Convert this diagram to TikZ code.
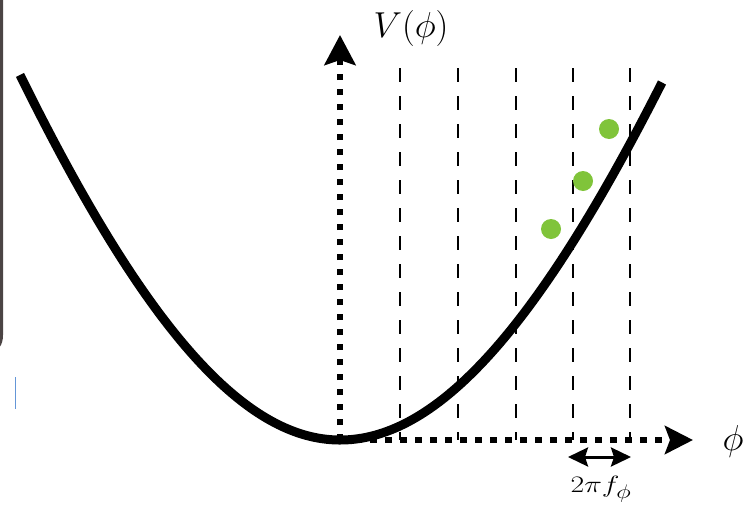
\documentclass[tikz,border=0pt]{standalone}
\usetikzlibrary{arrows.meta}
\definecolor{dotgreen}{RGB}{128,196,58}
\definecolor{edgegray}{RGB}{75,68,68}
\definecolor{markblue}{RGB}{100,150,215}
\begin{document}
\begin{tikzpicture}[x=1pt,y=-1pt,
  axisline/.style={line width=6.5pt,dash pattern=on 6.5pt off 8.5pt},
  guideline/.style={line width=2pt,dash pattern=on 14pt off 14pt},
  potential/.style={line width=9pt},
  particle/.style={circle,fill=dotgreen,minimum size=20pt,inner sep=0pt},
  bigmath/.style={font=\fontsize{24.88}{28}\selectfont,inner sep=0pt,scale=1.45},
  smallmath/.style={font=\fontsize{24.88}{28}\selectfont,inner sep=0pt,xscale=1.2,yscale=0.95}]
\useasboundingbox (0,0) rectangle (743,506);
% left frame edge and blue mark
\draw[edgegray,line width=3pt] (1.5,-5) -- (1.5,335) .. controls (1.5,345) and (-3,350) .. (-10,350);
\draw[markblue,line width=1.6pt] (15.5,377) -- (15.5,409);
% guides
\foreach \gx in {400,458,516,573,630}{
  \coordinate (g\gx t) at (\gx,68);
  \coordinate (g\gx b) at (\gx,440);
  \draw[guideline] (g\gx t) -- (g\gx b);
}
% axes
\coordinate (O) at (340,440);
\coordinate (Ytip) at (340,35);
\coordinate (Xtip) at (693,440);
\draw[axisline,-{Stealth[length=30pt,width=31pt,inset=5pt]}] (O) -- (Ytip);
\draw[axisline,-{Stealth[length=28pt,width=28pt,inset=5pt]}] (O) -- (Xtip);
% potential
\draw[potential] plot[domain=20:662,samples=160] (\x,{440-((\x<340)?1301:1260)*(sqrt(1+((\x-340)/400)^2)-1)});
% particles
\node[particle] (p1) at (609,129) {};
\node[particle] (p2) at (583,181) {};
\node[particle] (p3) at (551,229) {};
% labels
\node[bigmath] (Vlab) at (411,28) {$V(\phi)$};
\node[bigmath] (philab) at (733,441) {$\phi$};
\coordinate (fL) at (568,457);
\coordinate (fR) at (631,457);
\draw[line width=3pt,{Stealth[length=20pt,width=19pt,inset=3pt]}-{Stealth[length=20pt,width=19pt,inset=3pt]}] (fL) -- (fR);
\node[smallmath] (flab) at (601,489) {$2\pi f_\phi$};
\end{tikzpicture}
\end{document}
